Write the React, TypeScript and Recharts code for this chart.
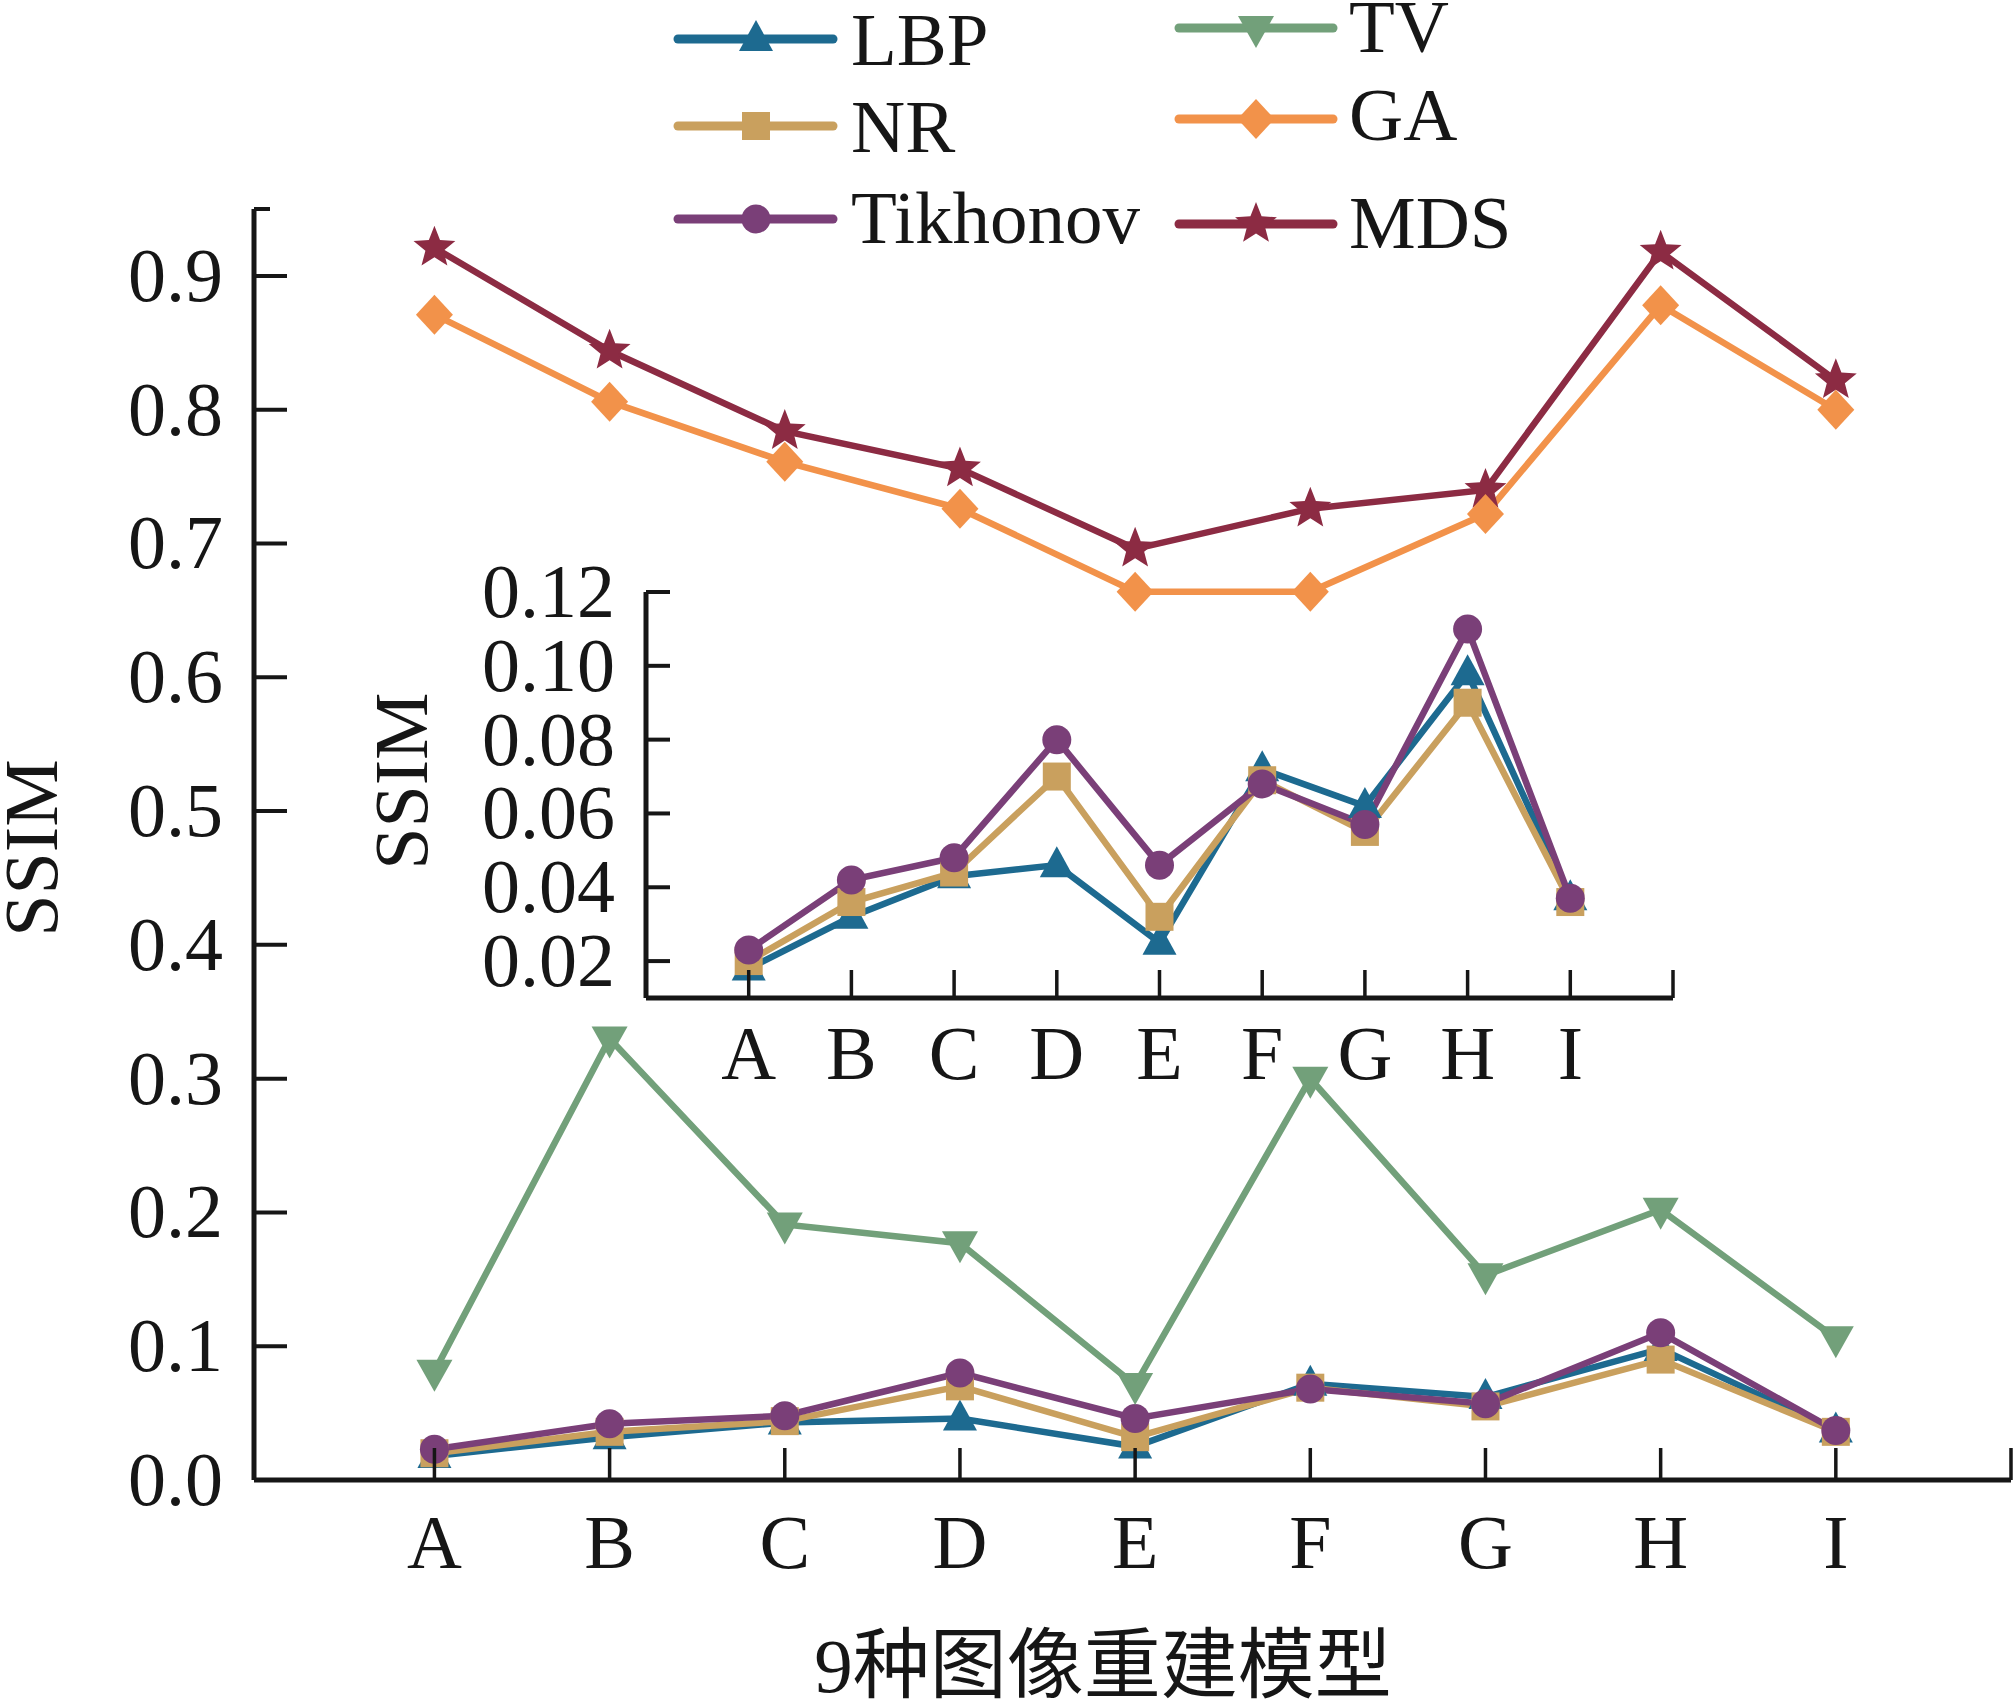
import React from 'react';
import { LineChart, Line, XAxis, YAxis, Legend } from 'recharts';

// categories (9 reconstruction models) and SSIM per method
const categories = ['A', 'B', 'C', 'D', 'E', 'F', 'G', 'H', 'I'];
const lbpValues = [0.018, 0.032, 0.043, 0.046, 0.025, 0.072, 0.062, 0.098, 0.037];
const nrValues = [0.02, 0.036, 0.044, 0.07, 0.032, 0.069, 0.055, 0.09, 0.036];
const tikhonovValues = [0.023, 0.042, 0.048, 0.08, 0.046, 0.068, 0.057, 0.11, 0.037];
const tvValues = [0.081, 0.33, 0.191, 0.177, 0.071, 0.3, 0.153, 0.202, 0.106];
const gaValues = [0.871, 0.806, 0.761, 0.726, 0.664, 0.664, 0.722, 0.878, 0.8];
const mdsValues = [0.921, 0.844, 0.784, 0.756, 0.696, 0.726, 0.74, 0.918, 0.822];

const mainYTicks = [0, 0.1, 0.2, 0.3, 0.4, 0.5, 0.6, 0.7, 0.8, 0.9, 0.95];
const insetYTicks = [0.02, 0.04, 0.06, 0.08, 0.1, 0.12];
const xTicks = [1, 2, 3, 4, 5, 6, 7, 8, 9, 10];
const xTitle = '9种图像重建模型';
const yTitle = 'SSIM';

const FONT = "'Liberation Serif', 'Times New Roman', 'DejaVu Serif', 'Noto Sans CJK SC', serif";
const INK = '#161616';

type Shape = 'triUp' | 'triDown' | 'square' | 'diamond' | 'circle' | 'star';
interface SeriesDef { key: string; color: string; shape: Shape; values: number[] }

const series: SeriesDef[] = [
  { key: 'LBP', color: '#1d6a90', shape: 'triUp', values: lbpValues },
  { key: 'NR', color: '#c9a05e', shape: 'square', values: nrValues },
  { key: 'Tikhonov', color: '#7a3f78', shape: 'circle', values: tikhonovValues },
  { key: 'TV', color: '#72a07a', shape: 'triDown', values: tvValues },
  { key: 'MDS', color: '#8c2b43', shape: 'star', values: mdsValues },
  { key: 'GA', color: '#f2924a', shape: 'diamond', values: gaValues },
];
const insetKeys = ['LBP', 'NR', 'Tikhonov'];

const data = categories.map((c, i) => {
  const row: Record<string, number | string> = { x: i + 1, cat: c };
  series.forEach((s) => { row[s.key] = s.values[i]; });
  return row;
});

// legend grid: two columns, three rows
const legendOrder = [['LBP', 'NR', 'Tikhonov'], ['TV', 'GA', 'MDS']];
const legendCols = [
  { x1: 678, x2: 833, mx: 756, tx: 851, lineY: [39, 126, 219], textY: [65, 152, 243] },
  { x1: 1179, x2: 1333, mx: 1256, tx: 1349, lineY: [28, 119, 224], textY: [52, 140, 248] },
];

function starPoints(cx: number, cy: number, R: number, r: number) {
  const pts: string[] = [];
  for (let i = 0; i < 10; i++) {
    const rad = i % 2 === 0 ? R : r;
    const a = -Math.PI / 2 + (i * Math.PI) / 5;
    pts.push(`${cx + rad * Math.cos(a)},${cy + rad * Math.sin(a)}`);
  }
  return pts.join(' ');
}

function Marker({ shape, cx, cy, color }: { shape: Shape; cx: number; cy: number; color: string }) {
  if (cx == null || cy == null) return null;
  switch (shape) {
    case 'triUp':
      return <polygon points={`${cx},${cy - 19} ${cx - 17},${cy + 12} ${cx + 17},${cy + 12}`} fill={color} />;
    case 'triDown':
      return <polygon points={`${cx - 18},${cy - 12} ${cx + 18},${cy - 12} ${cx},${cy + 20}`} fill={color} />;
    case 'square':
      return <rect x={cx - 14} y={cy - 14} width={28} height={28} fill={color} />;
    case 'diamond':
      return <polygon points={`${cx},${cy - 20} ${cx + 18.5},${cy} ${cx},${cy + 20} ${cx - 18.5},${cy}`} fill={color} />;
    case 'circle':
      return <circle cx={cx} cy={cy} r={14.5} fill={color} />;
    case 'star':
      return <polygon points={starPoints(cx, cy, 22, 9.5)} fill={color} />;
  }
  return null;
}

function LegendContent() {
  const byKey = Object.fromEntries(series.map((s) => [s.key, s]));
  return (
    <svg width={2015} height={270}>
      {legendOrder.map((col, ci) =>
        col.map((k, ri) => {
          const s = byKey[k];
          const c = legendCols[ci];
          return (
            <g key={k}>
              <line x1={c.x1} x2={c.x2} y1={c.lineY[ri]} y2={c.lineY[ri]} stroke={s.color} strokeWidth={9} strokeLinecap="round" />
              <Marker shape={s.shape} cx={c.mx} cy={c.lineY[ri]} color={s.color} />
              <text x={c.tx} y={c.textY[ri]} fontFamily={FONT} fontSize={75} fill={INK}>{k}</text>
            </g>
          );
        })
      )}
    </svg>
  );
}

// main chart geometry
const MAIN_AXIS_X = 254;
const MAIN_AXIS_Y = 1480;
// inset geometry
const INS_AXIS_X = 646;
const INS_AXIS_Y = 998;

function makeYTick(axisX: number, labelX: number, digits: number, len: number, shortAt?: number) {
  return (p: any) => {
    const v = p.payload.value as number;
    const isShort = shortAt !== undefined && Math.abs(v - shortAt) < 1e-9;
    return (
      <g>
        <line x1={axisX} x2={axisX + (isShort ? 16 : len)} y1={p.y} y2={p.y} stroke={INK} strokeWidth={4} />
        {!isShort && (
          <text x={labelX} y={p.y + 25} textAnchor="end" fontFamily={FONT} fontSize={76} fill={INK}>
            {v.toFixed(digits)}
          </text>
        )}
      </g>
    );
  };
}

function makeXTick(axisY: number, baseline: number, len: number) {
  return (p: any) => {
    const v = p.payload.value as number;
    const label = categories[v - 1];
    return (
      <g>
        <line x1={p.x} x2={p.x} y1={axisY} y2={axisY - len} stroke={INK} strokeWidth={3.5} />
        {label && (
          <text x={p.x} y={baseline} textAnchor="middle" fontFamily={FONT} fontSize={76} fill={INK}>
            {label}
          </text>
        )}
      </g>
    );
  };
}

function renderLines(keys: string[]) {
  return series
    .filter((s) => keys.includes(s.key))
    .map((s) => (
      <Line
        key={s.key}
        type="linear"
        dataKey={s.key}
        stroke={s.color}
        strokeWidth={6.5}
        isAnimationActive={false}
        activeDot={false}
        dot={(p: any) => <Marker key={`${s.key}-${p.index}`} shape={s.shape} cx={p.cx} cy={p.cy} color={s.color} />}
      />
    ));
}

export default function App() {
  return (
    <div style={{ position: 'absolute', left: 0, top: 0, width: 2015, height: 1708, background: '#fff' }}>
      <div style={{ position: 'absolute', left: 0, top: 0 }}>
        <LineChart width={2015} height={1708} data={data} margin={{ top: 209, right: 4, bottom: 0, left: 0 }}>
          <XAxis
            type="number"
            dataKey="x"
            domain={[-0.03, 10]}
            ticks={xTicks}
            interval={0}
            height={228}
            allowDataOverflow
            axisLine={{ stroke: INK, strokeWidth: 5 }}
            tickLine={false}
            tick={makeXTick(MAIN_AXIS_Y, 1568, 32)}
            label={{
              content: () => (
                <text x={1103} y={1666} textAnchor="middle" dominantBaseline="central" fontFamily={FONT} fontSize={77} fill={INK}>
                  {xTitle}
                </text>
              ),
            }}
          />
          <YAxis
            type="number"
            domain={[0, 0.95]}
            ticks={mainYTicks}
            interval={0}
            width={254}
            allowDataOverflow
            axisLine={{ stroke: INK, strokeWidth: 5 }}
            tickLine={false}
            tick={makeYTick(MAIN_AXIS_X, 223, 1, 33, 0.95)}
            label={{
              content: () => (
                <text x={57} y={848} transform="rotate(-90, 57, 848)" textAnchor="middle" fontFamily={FONT} fontSize={76} fill={INK}>
                  {yTitle}
                </text>
              ),
            }}
          />
          <Legend layout="horizontal" verticalAlign="middle" align="center" content={() => <LegendContent />} wrapperStyle={{ position: 'absolute', left: 0, top: 0, width: 2015, height: 270 }} />
          {renderLines(['LBP', 'NR', 'Tikhonov', 'TV', 'MDS', 'GA'])}
        </LineChart>
      </div>
      <div style={{ position: 'absolute', left: 0, top: 0, pointerEvents: 'none' }}>
        <LineChart width={1700} height={1120} data={data} margin={{ top: 592, right: 27, bottom: 0, left: 0 }}>
          <XAxis
            type="number"
            dataKey="x"
            domain={[0, 10]}
            ticks={xTicks}
            interval={0}
            height={122}
            allowDataOverflow
            axisLine={{ stroke: INK, strokeWidth: 5 }}
            tickLine={false}
            tick={makeXTick(INS_AXIS_Y, 1079, 28)}
          />
          <YAxis
            type="number"
            domain={[0.01, 0.12]}
            ticks={insetYTicks}
            interval={0}
            width={646}
            allowDataOverflow
            axisLine={{ stroke: INK, strokeWidth: 5 }}
            tickLine={false}
            tick={makeYTick(INS_AXIS_X, 615, 2, 24)}
            label={{
              content: () => (
                <text x={427} y={781} transform="rotate(-90, 427, 781)" textAnchor="middle" fontFamily={FONT} fontSize={76} fill={INK}>
                  {yTitle}
                </text>
              ),
            }}
          />
          {renderLines(insetKeys)}
        </LineChart>
      </div>
    </div>
  );
}
